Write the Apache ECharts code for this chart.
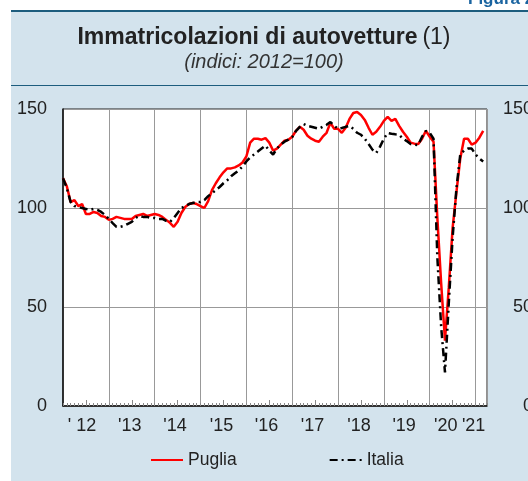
<!DOCTYPE html>
<html>
<head>
<meta charset="utf-8">
<script src="https://cdn.jsdelivr.net/npm/echarts@6/dist/echarts.min.js"></script>
<style>
  html, body { margin: 0; padding: 0; background: #fff; }
  #chart { width: 528px; height: 481px; }
</style>
</head>
<body>
<div id="chart"></div>
<script>
// mesi da gen 2012 (0) a mar 2021 (110)
var puglia = [
  115, 111, 103, 104, 101, 102, 97, 97, 98, 97.5, 96, 95.5,
  94, 94.5, 95.5, 95, 94.5, 94.5, 94.5, 96, 96.5, 97, 96, 96.5,
  97, 96.5, 95.5, 94, 92.5, 90.5, 93, 97.5, 100.5, 102, 102.5, 102,
  101, 100, 103.5, 109, 112.5, 115.5, 118, 120, 120, 120.5, 121.5, 123,
  126, 133, 135, 135, 134.5, 135.3, 133, 129, 130, 132, 134, 134.5,
  136, 139, 141, 139.5, 136.5, 135, 134, 133.5, 136, 138, 143, 140,
  140, 138, 140.5, 145, 148, 148.5, 147, 144.5, 140.5, 137, 138.5, 141,
  144, 146, 144, 145, 141.5, 138.5, 136, 133, 132.5, 132.3, 135, 139,
  136, 133.5, 95, 62, 33, 60, 90, 108, 125, 135, 135, 132,
  133, 135.5, 139
];
var italia = [
  115, 110, 103, 101, 100.5, 100, 99.5, 99, 99.5, 99, 98, 96.5,
  94.5, 92.4, 90.5, 90.5, 91, 92, 93, 95, 96, 95.5, 95.5, 95,
  95, 94.5, 94.5, 93.5, 93, 95, 97.5, 100, 101, 102, 102.5, 103,
  103, 104, 106, 107.5, 109, 110.6, 112.5, 114, 116, 117.5, 119, 121,
  123.5, 125.5, 127, 128.5, 130, 131.5, 129, 127, 130, 132, 133.5, 134.5,
  135.8, 139, 141, 142.4, 141.5, 141, 140.5, 140, 141, 142, 143.4, 141.5,
  140, 140.4, 141, 141.4, 140, 138, 137, 135, 132.3, 129.5, 127.8, 131,
  135, 137.9, 137.5, 137.2, 137, 135, 133.8, 132.3, 132, 131.8, 136, 138.9,
  138, 135, 75, 40, 17, 52, 85, 110, 127, 129, 130, 130,
  127, 125, 123.5
];
var yearLabels = ["' 12", "'13", "'14", "'15", "'16", "'17", "'18", "'19", "'20", "'21"];
var labelMonths = [5, 17.5, 29.3, 41.5, 53.3, 65.3, 77.5, 89.3, 100.2, 107.5];
var midYears = [6, 18, 30, 42, 54, 66, 78, 90, 102];

var font = "'Liberation Sans', Arial, Helvetica, sans-serif";

var chart = echarts.init(document.getElementById('chart'));

function pairs(arr) {
  return arr.map(function (v, i) { return [i, v]; });
}

var option = {
  backgroundColor: '#d3e3ed',
  animation: false,
  textStyle: { fontFamily: font },
  graphic: [
    { type: 'rect', shape: { x: 0, y: 0, width: 11, height: 481 }, style: { fill: '#fff' }, z: 0 },
    { type: 'rect', shape: { x: 0, y: 0, width: 528, height: 11 }, style: { fill: '#fff' }, z: 0 },
    { type: 'rect', shape: { x: 11, y: 10, width: 517, height: 2 }, style: { fill: '#1d5d7e' }, z: 1 },
    { type: 'rect', shape: { x: 11, y: 85, width: 517, height: 1 }, style: { fill: '#1d5d7e' }, z: 1 },
    { type: 'text', style: { x: 468, y: 8, text: 'Figura 2.1', fill: '#1a64a0', font: 'bold 17px ' + font, textVerticalAlign: 'bottom' }, z: 1 }
  ],
  title: [
    {
      text: '{b|Immatricolazioni di autovetture} {n|(1)}',
      left: 'center', top: 21,
      textStyle: {
        rich: {
          b: { fontSize: 23, fontWeight: 'bold', color: '#222', fontFamily: font },
          n: { fontSize: 23, fontWeight: 'normal', color: '#222', fontFamily: font }
        }
      }
    },
    {
      text: '(indici: 2012=100)',
      left: 'center', top: 47,
      textStyle: { fontSize: 20, fontStyle: 'italic', fontWeight: 'normal', color: '#333', fontFamily: font }
    }
  ],
  legend: {
    left: 150, top: 451, padding: 0,
    itemWidth: 32, itemHeight: 14, itemGap: 92,
    itemStyle: { opacity: 0 },
    textStyle: { fontSize: 17.5, color: '#222', fontFamily: font },
    data: ['Puglia', 'Italia']
  },
  grid: {
    left: 63, right: 41, top: 109, bottom: 75,
    outerBoundsMode: 'none', containLabel: false,
    show: true, backgroundColor: '#fff', borderColor: '#222', borderWidth: 1
  },
  xAxis: [
    {
      type: 'value', min: 0, max: 111, interval: 12,
      axisLine: { show: true, lineStyle: { color: '#111', width: 1.5 } },
      axisTick: { show: true, inside: true, length: 3, lineStyle: { color: '#888' } },
      minorTick: { show: true, splitNumber: 12, length: 3, lineStyle: { color: '#888' } },
      splitLine: { show: true, lineStyle: { color: '#999', width: 1 } },
      axisLabel: { show: false }
    },
    {
      type: 'value', min: 0, max: 111, position: 'bottom',
      axisLine: { show: false },
      axisTick: { show: true, inside: true, length: 6, customValues: midYears, lineStyle: { color: '#888' } },
      splitLine: { show: false },
      axisLabel: {
        show: true, customValues: labelMonths, margin: 11,
        fontSize: 18, color: '#222', fontFamily: font,
        formatter: function (v) {
          var k = labelMonths.indexOf(v);
          return k >= 0 ? yearLabels[k] : '';
        }
      }
    }
  ],
  yAxis: [
    {
      type: 'value', min: 0, max: 150, interval: 50,
      axisLine: { show: true, lineStyle: { color: '#111', width: 1.5 } },
      axisTick: { show: false },
      splitLine: { show: true, lineStyle: { color: '#999', width: 1 } },
      axisLabel: { fontSize: 18, color: '#222', margin: 16, fontFamily: font }
    },
    {
      type: 'value', min: 0, max: 150, interval: 50, position: 'right',
      axisLine: { show: false },
      axisTick: { show: false },
      splitLine: { show: false },
      axisLabel: { fontSize: 18, color: '#222', margin: 46, align: 'right', fontFamily: font }
    }
  ],
  series: [
    {
      name: 'Puglia', type: 'line', data: pairs(puglia),
      symbol: 'none', smooth: false,
      lineStyle: { color: '#ff0000', width: 2.5 },
      itemStyle: { color: '#ff0000' }
    },
    {
      name: 'Italia', type: 'line', data: pairs(italia),
      symbol: 'none', smooth: false,
      lineStyle: { color: '#000', width: 2.5, type: [8, 4, 2, 4] },
      itemStyle: { color: '#000' }
    }
  ]
};

chart.setOption(option);
</script>
</body>
</html>
